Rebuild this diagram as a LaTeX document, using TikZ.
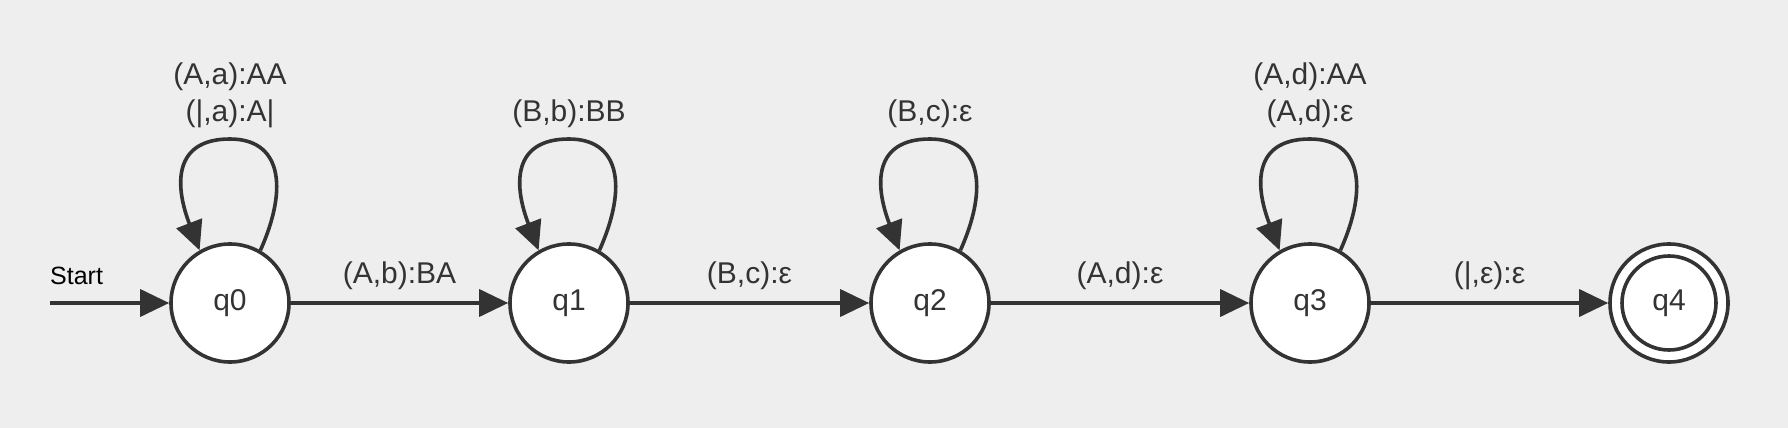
\documentclass[tikz,border=0pt]{standalone}
\usepackage{fontspec}
\setmainfont{Liberation Sans}
\usetikzlibrary{arrows.meta,calc}
\definecolor{bg}{HTML}{EEEEEE}
\definecolor{ink}{HTML}{333333}
\tikzset{
  state/.style={circle,draw=ink,line width=3.6pt,fill=white,minimum size=118pt,inner sep=0pt,
    text=ink,font=\fontsize{30}{36}\selectfont},
  edge/.style={draw=ink,line width=3.6pt,-{Triangle[length=29pt,width=27pt]}},
  elabel/.style={text=ink,font=\fontsize{30}{37}\selectfont,anchor=base,yshift=20pt,inner sep=0pt},
  looplabel/.style={text=ink,font=\fontsize{30}{37}\selectfont,align=center,anchor=south,inner sep=0pt},
}
\newcommand{\selfloop}[2]{%
  \draw[edge] (#1.60) .. controls +(29,-65) and +(50,0) .. ($(#1)+(0,-164)$)
     .. controls +(-57,0) and +(-25,-65) .. (#1.120);
  \node[looplabel] (#1lab) at ($(#1)+(0,-175)$) {#2};
}
\begin{document}
\begin{tikzpicture}[x=1pt,y=-1pt]
\fill[bg] (0,0) rectangle (1788,428);
\useasboundingbox (0,0) rectangle (1788,428);
\node[state] (q0) at (230,303) {q0};
\node[state] (q1) at (569,303) {q1};
\node[state] (q2) at (930,303) {q2};
\node[state] (q3) at (1310,303) {q3};
\node[state] (q4) at (1669,303) {q4};
\draw[ink,line width=3.6pt] (q4) circle[radius=47];
\coordinate (start) at (50,303);
\node[anchor=base west,inner sep=0pt,font=\fontsize{25}{30}\selectfont,text=black] (startlab) at (50,284) {Start};
\draw[edge] (start) -- (q0);
\draw[edge] (q0) -- node[elabel] {(A,b):BA} (q1);
\draw[edge] (q1) -- node[elabel] {(B,c):ε} (q2);
\draw[edge] (q2) -- node[elabel] {(A,d):ε} (q3);
\draw[edge] (q3) -- node[elabel] {(|,ε):ε} (q4);
\selfloop{q0}{(A,a):AA\\(|,a):A|}
\selfloop{q1}{(B,b):BB}
\selfloop{q2}{(B,c):ε}
\selfloop{q3}{(A,d):AA\\(A,d):ε}
\end{tikzpicture}
\end{document}
